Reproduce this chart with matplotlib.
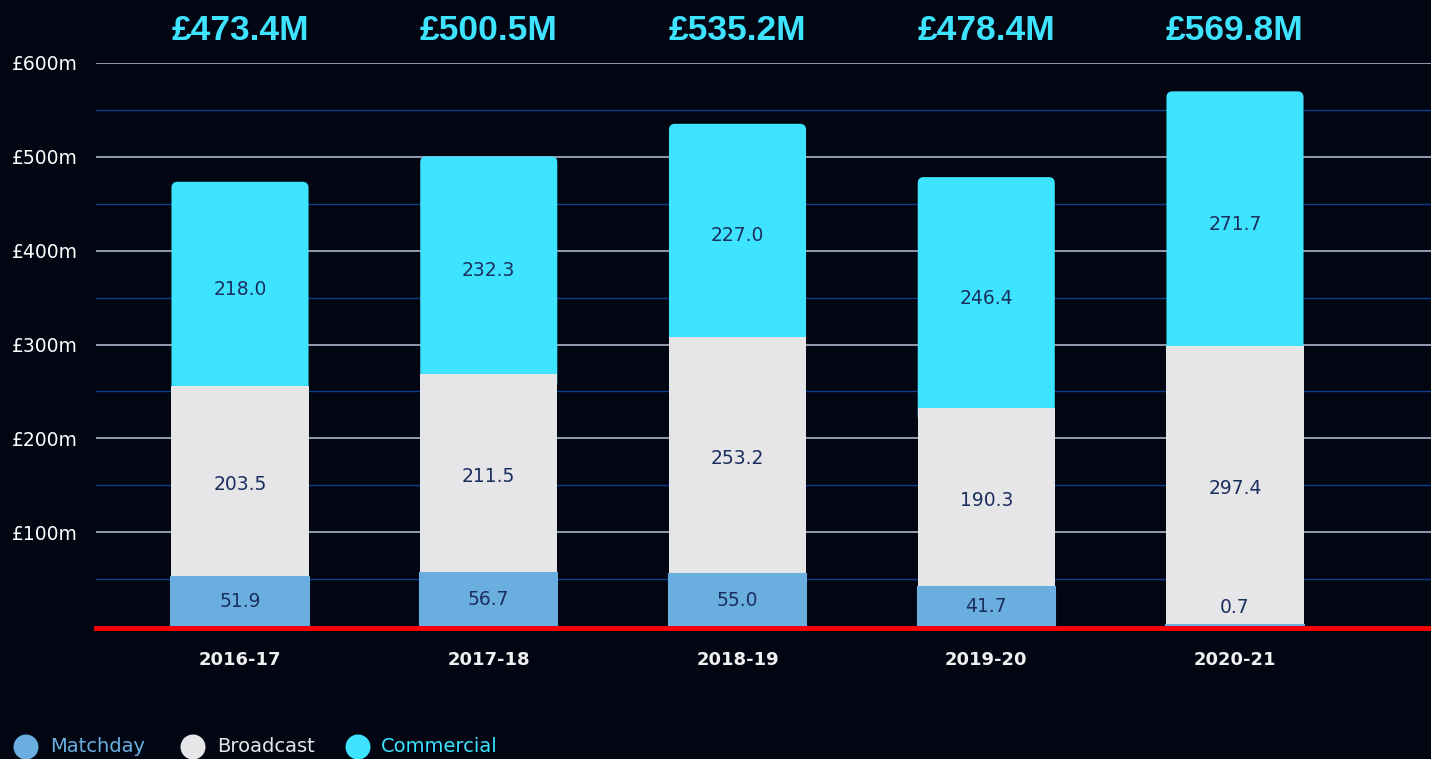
import numpy as np
import matplotlib
matplotlib.use('Agg')
import matplotlib.pyplot as plt
from matplotlib.patches import FancyBboxPatch, Circle
import matplotlib.transforms as mtransforms

seasons = ['2016-17', '2017-18', '2018-19', '2019-20', '2020-21']
matchday = [51.9, 56.7, 55.0, 41.7, 0.7]
broadcast = [203.5, 211.5, 253.2, 190.3, 297.4]
commercial = [218.0, 232.3, 227.0, 246.4, 271.7]
yticks = [100, 200, 300, 400, 500, 600]
legend_labels = ['Matchday', 'Broadcast', 'Commercial']

c_match = '#6aaee0'
c_broad = '#e6e6e9'
c_comm = '#3de3ff'
c_label = '#1b2f5e'
bg = '#020612'


def main():
    W, H, dpi = 1431, 759, 100
    fig = plt.figure(figsize=(W / dpi, H / dpi), dpi=dpi, facecolor=bg)
    # axes: x from px 96 to 1431, y from px 626 (0) to px 63 (600)
    ax = fig.add_axes([96 / W, (H - 626) / H, (W - 96) / W, (626 - 63) / H])
    ax.set_facecolor('none')

    x = np.arange(len(seasons))
    width = 0.551
    ax.set_xlim(-0.579, 4.788)
    ax.set_ylim(0, 600)

    # gridlines
    for v in range(50, 600, 100):
        ax.axhline(v, color='#0b3d8c', lw=1, zorder=0)
    for v in yticks:
        ax.axhline(v, color='#b8c4dc', lw=1.1, zorder=0)

    matchday_a = np.array(matchday)
    broad_a = np.array(broadcast)
    comm_a = np.array(commercial)
    totals = matchday_a + broad_a + comm_a

    # rounded top for commercial segment
    px_per_x = (W - 96) / (4.788 + 0.579)
    px_per_y = (626 - 63) / 600
    r_px = 6
    rs = r_px / px_per_x
    aspect = (r_px / px_per_y) / rs
    for i in range(len(seasons)):
        y0 = matchday_a[i] + broad_a[i] - 15
        p = FancyBboxPatch((x[i] - width / 2, y0), width, totals[i] - y0,
                           boxstyle='round,pad=0,rounding_size=%f' % rs,
                           mutation_aspect=aspect, fc=c_comm, ec='none', zorder=2)
        ax.add_patch(p)

    ax.bar(x, broad_a, width, bottom=matchday_a, color=c_broad, zorder=3)
    ax.bar(x, matchday_a, width, color=c_match, ec=c_match, lw=1.5, zorder=4)

    lab_kw = dict(ha='center', va='center', color=c_label, fontsize=13.5, zorder=5)
    for i in range(len(seasons)):
        ax.text(x[i], max(matchday_a[i] / 2, 20), '%.1f' % matchday_a[i], **lab_kw)
        ax.text(x[i], matchday_a[i] + broad_a[i] / 2 - 3, '%.1f' % broad_a[i], **lab_kw)
        ax.text(x[i], matchday_a[i] + broad_a[i] + comm_a[i] / 2 - 6, '%.1f' % comm_a[i], **lab_kw)

    # totals above the plot
    trans = mtransforms.blended_transform_factory(ax.transData, ax.transAxes)
    for i in range(len(seasons)):
        ax.text(x[i], (626 - 31) / (626 - 63), '£%.1fM' % totals[i], transform=trans,
                ha='center', va='center', color=c_comm, fontsize=25.5,
                fontweight='bold', family='Liberation Sans', clip_on=False)

    # red baseline
    ax.axhline(-2.5, color='#ff0000', lw=3.5, zorder=6, clip_on=False)

    ax.set_yticks(yticks)
    ax.set_yticklabels(['£%dm' % v for v in yticks], color='white', fontsize=13.5)
    ax.set_xticks(x)
    ax.set_xticklabels(seasons, color='#f0f0f0', fontsize=13, fontweight='bold')
    ax.tick_params(axis='y', length=0, pad=13)
    ax.tick_params(axis='x', length=0, pad=18)
    for s in ax.spines.values():
        s.set_visible(False)

    # legend
    leg_pos = [(26, 50), (193, 217), (358, 381)]
    leg_cols = [c_match, c_broad, c_comm]
    for (cx, tx), lab, col in zip(leg_pos, legend_labels, leg_cols):
        fig.patches.append(Circle((cx / dpi, (H - 747) / dpi), 12.5 / dpi,
                                  transform=fig.dpi_scale_trans, fc=col, ec='none'))
        fig.text(tx / W, (H - 747) / H, lab, color=col, fontsize=14, ha='left', va='center')

    fig.savefig('out.png', dpi=dpi, facecolor=bg)


if __name__ == '__main__':
    main()
